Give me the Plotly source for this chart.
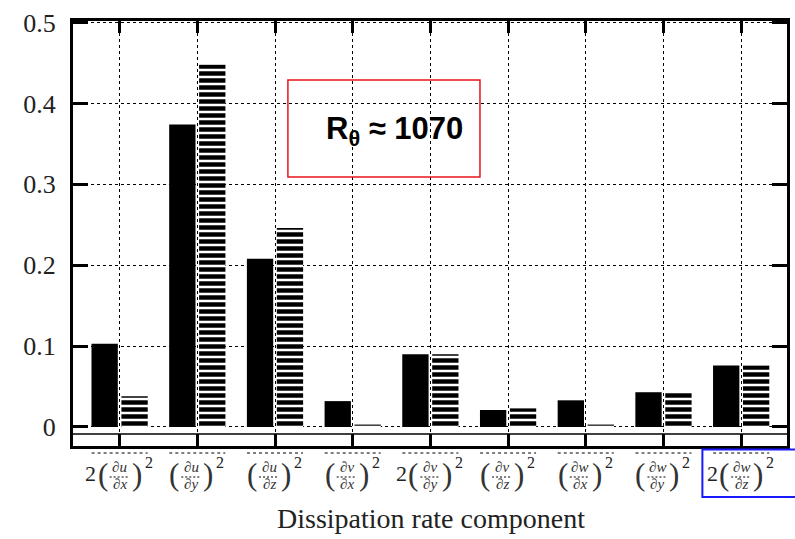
import plotly.graph_objects as go

# ---- data ----
categories = ["2(∂u/∂x)²", "(∂u/∂y)²", "(∂u/∂z)²", "(∂v/∂x)²", "2(∂v/∂y)²",
              "(∂v/∂z)²", "(∂w/∂x)²", "(∂w/∂y)²", "2(∂w/∂z)²"]
label_prefix = ["2", "", "", "", "2", "", "", "", "2"]
label_num = ["∂<i>u</i>", "∂<i>u</i>", "∂<i>u</i>", "∂<i>v</i>", "∂<i>v</i>", "∂<i>v</i>",
             "∂<i>w</i>", "∂<i>w</i>", "∂<i>w</i>"]
label_den = ["∂<i>x</i>", "∂<i>y</i>", "∂<i>z</i>", "∂<i>x</i>", "∂<i>y</i>", "∂<i>z</i>",
             "∂<i>x</i>", "∂<i>y</i>", "∂<i>z</i>"]
solid_values = [0.103, 0.374, 0.208, 0.032, 0.090, 0.021, 0.033, 0.043, 0.076]
hatched_values = [0.038, 0.448, 0.246, 0.003, 0.090, 0.023, 0.003, 0.044, 0.076]
y_ticks = [0, 0.1, 0.2, 0.3, 0.4, 0.5]
y_ticklabels = ["0", "0.1", "0.2", "0.3", "0.4", "0.5"]
annot_text = "R<sub>θ</sub> ≈ 1070"
x_title = "Dissipation rate component"

SERIF = "Liberation Serif, Times New Roman, serif"

fig = go.Figure()
fig.add_trace(go.Bar(x=categories, y=solid_values, name="solid",
                     marker=dict(color="black", line=dict(width=0))))
fig.add_trace(go.Bar(x=categories, y=hatched_values, name="hatched",
                     marker=dict(color="white", line=dict(width=0),
                                 pattern=dict(shape="-", size=7, solidity=0.64,
                                              fgcolor="black", bgcolor="white",
                                              fgopacity=1, fillmode="replace"))))

fig.update_layout(
    width=795, height=539,
    margin=dict(l=73, r=5, t=21, b=93),
    paper_bgcolor="white", plot_bgcolor="white",
    barmode="group", bargap=0.23, bargroupgap=0.12,
    showlegend=False,
    font=dict(family=SERIF, color="black"),
)
fig.update_xaxes(
    type="category", range=[-0.6, 8.59],
    showline=True, linewidth=3, linecolor="black", mirror="ticks",
    ticks="inside", ticklen=12, tickwidth=3, tickcolor="black",
    showticklabels=False,
    showgrid=True, gridcolor="black", gridwidth=1, griddash="3px,3px",
    zeroline=False,
)
fig.update_yaxes(
    range=[-0.0235, 0.502],
    tickvals=y_ticks, ticktext=y_ticklabels,
    showline=True, linewidth=3, linecolor="black", mirror="ticks",
    ticks="inside", ticklen=15, tickwidth=3, tickcolor="black",
    tickfont=dict(family=SERIF, size=26, color="#222"), ticklabelstandoff=9,
    showgrid=True, gridcolor="black", gridwidth=1, griddash="3px,3px",
    zeroline=False,
)

shapes = []
annotations = []
# thin line just below zero
shapes.append(dict(type="line", xref="paper", yref="y", x0=0, x1=1,
                   y0=-0.0088, y1=-0.0088, line=dict(color="black", width=1.5)))

for i, cat in enumerate(categories):
    has_pre = label_prefix[i] != ""
    f = 0 if has_pre else -6
    common = dict(x=cat, xref="x", y=0, yref="paper", yanchor="middle",
                  xanchor="center", showarrow=False)
    if has_pre:
        annotations.append(dict(common, text=label_prefix[i], xshift=f - 29, yshift=-27,
                                font=dict(family=SERIF, size=22, color="#222")))
    annotations.append(dict(common, text="(", xshift=f - 17, yshift=-28,
                            font=dict(family=SERIF, size=31, color="#333")))
    annotations.append(dict(common, text=")", xshift=f + 17, yshift=-28,
                            font=dict(family=SERIF, size=31, color="#333")))
    annotations.append(dict(common, text="2", xshift=f + 29, yshift=-16,
                            font=dict(family=SERIF, size=16, color="#222")))
    annotations.append(dict(common, text=label_num[i], xshift=f, yshift=-21,
                            font=dict(family=SERIF, size=15, color="#333")))
    annotations.append(dict(common, text=label_den[i], xshift=f, yshift=-38,
                            font=dict(family=SERIF, size=15, color="#333")))
    # fraction bar (dashed)
    shapes.append(dict(type="line", xref="x", yref="paper",
                       xsizemode="pixel", xanchor=i, x0=f - 10, x1=f + 10,
                       ysizemode="pixel", yanchor=0, y0=-31, y1=-31,
                       line=dict(color="black", width=1, dash="2px,2px")))
    # dashed line above label
    shapes.append(dict(type="line", xref="x", yref="paper",
                       xsizemode="pixel", xanchor=i, x0=-28, x1=28,
                       ysizemode="pixel", yanchor=0, y0=-7, y1=-7,
                       line=dict(color="black", width=1, dash="3px,3px")))

# red annotation box
shapes.append(dict(type="rect", xref="paper", yref="paper",
                   x0=0.301, x1=0.570, y0=0.633, y1=0.861,
                   line=dict(color="#e8141c", width=1.5)))
annotations.append(dict(text="<b>" + annot_text + "</b>", xref="paper", yref="paper",
                        x=0.45, y=0.742, showarrow=False, xanchor="center", yanchor="middle",
                        font=dict(family="Liberation Sans, Arial, sans-serif", size=31, color="black")))
# blue box around last label
shapes.append(dict(type="rect", xref="paper", yref="paper",
                   x0=0.8815, x1=1.03, y0=-0.008, y1=-0.12,
                   line=dict(color="#1a1aff", width=2)))
# x title
annotations.append(dict(text=x_title, xref="paper", yref="paper", x=0.502, y=0,
                        yshift=-72, showarrow=False, xanchor="center", yanchor="middle",
                        font=dict(family=SERIF, size=28, color="#222")))

fig.update_layout(shapes=shapes, annotations=annotations)
fig.write_html("out.html")
